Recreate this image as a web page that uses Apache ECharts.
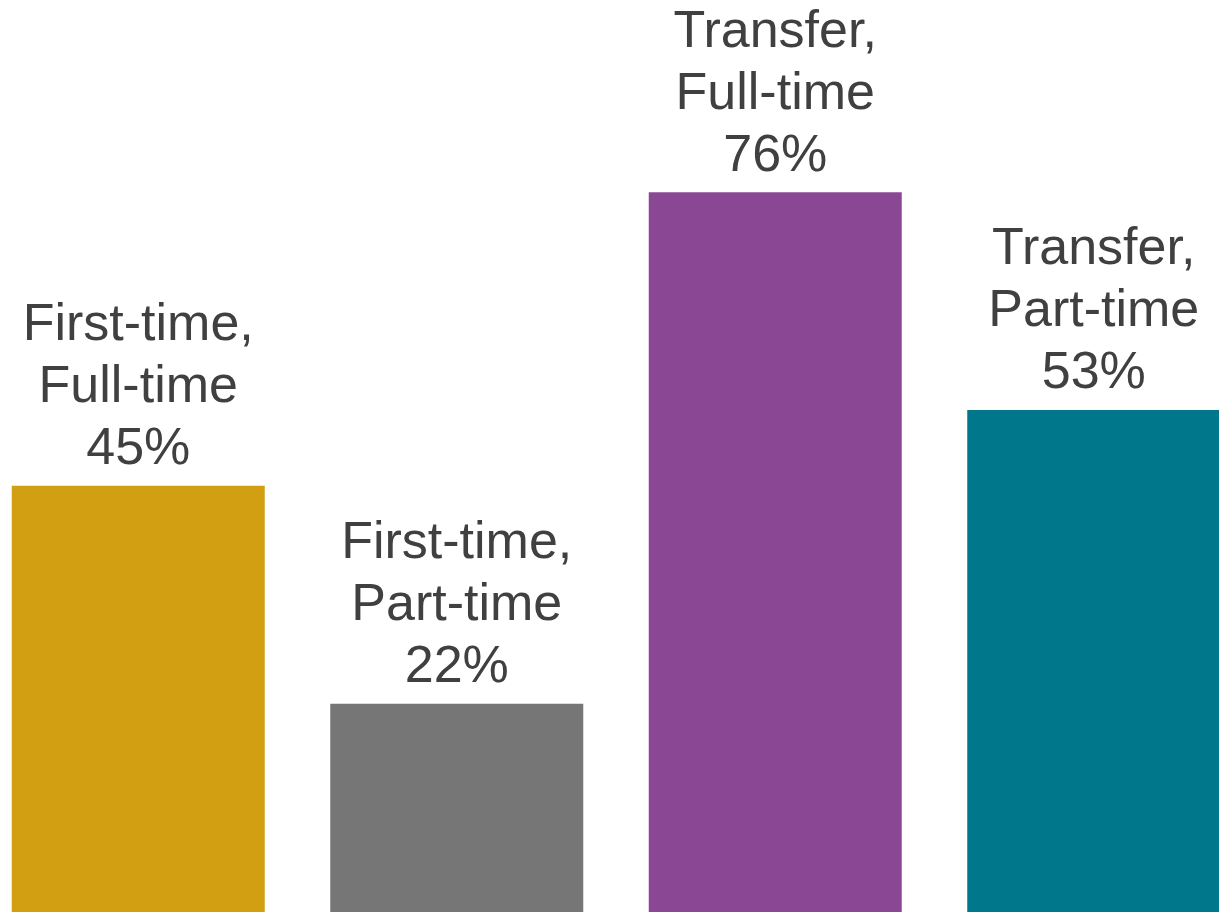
<!DOCTYPE html>
<html>
<head>
<meta charset="utf-8">
<script src="https://cdn.jsdelivr.net/npm/echarts@6/dist/echarts.min.js"></script>
<style>
  html, body { margin: 0; padding: 0; background: #ffffff; overflow: hidden; }
  /* The plot runs slightly past both window edges, so the outer bars are cut off */
  #chart { position: absolute; left: -21px; top: 0; width: 1274px; height: 912px; }
</style>
</head>
<body>
<div id="chart"></div>
<script>
// Student groups and their rates (percent)
const categories = ['First-time,\nFull-time', 'First-time,\nPart-time', 'Transfer,\nFull-time', 'Transfer,\nPart-time'];
const values = [45, 22, 76, 53];
const barColors = ['#D29F13', '#767676', '#8A4894', '#00778A'];

const chart = echarts.init(document.getElementById('chart'), null, { renderer: 'canvas' });

chart.setOption({
  animation: false,
  grid: { left: 0, right: 0, top: 0, bottom: 0, containLabel: false },
  xAxis: {
    type: 'category',
    data: categories,
    axisLine: { show: false },
    axisTick: { show: false },
    axisLabel: { show: false },
    splitLine: { show: false }
  },
  yAxis: {
    type: 'value',
    min: 0,
    max: 96.3,
    show: false,
    splitLine: { show: false }
  },
  series: [{
    type: 'bar',
    barWidth: 253,
    data: values.map((v, i) => ({ value: v, itemStyle: { color: barColors[i] } })),
    label: {
      show: true,
      position: 'top',
      distance: 5,
      fontFamily: 'Liberation Sans, Arial, sans-serif',
      fontSize: 52,
      lineHeight: 62,
      color: '#404040',
      align: 'center',
      formatter: p => p.name + '\n' + p.value + '%'
    }
  }]
});
</script>
</body>
</html>
